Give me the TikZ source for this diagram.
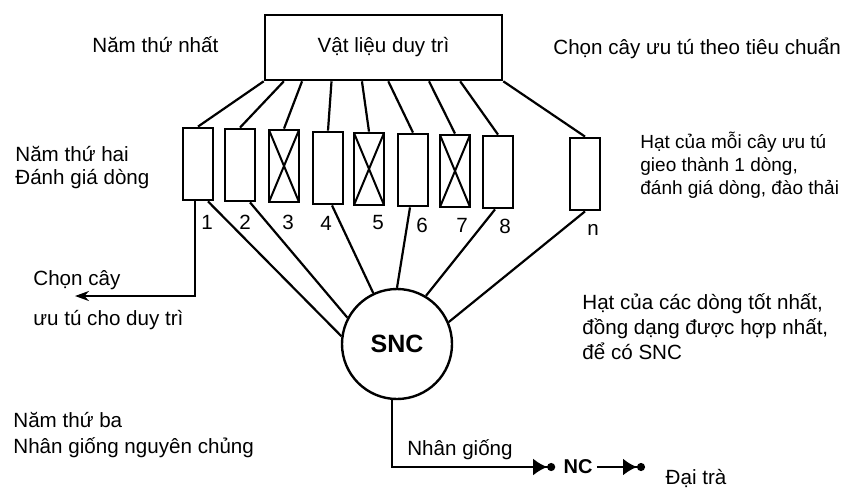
\documentclass[tikz,border=0pt]{standalone}
\usepackage{fontspec}
\setmainfont{Liberation Sans}
\usetikzlibrary{arrows.meta,calc}

\tikzset{
  plot/.style={draw,line width=1.4pt,minimum width=15pt,minimum height=36pt,inner sep=0pt},
  dropped/.style={plot,path picture={
    \draw[line width=1pt] (path picture bounding box.south west) -- (path picture bounding box.north east)
      (path picture bounding box.north west) -- (path picture bounding box.south east);}},
  link/.style={line width=1.1pt},
  seedtip/.style={-{Latex[length=7pt,width=8.5pt]Circle[length=4pt]}},
  txt/.style={anchor=west,inner sep=0pt,align=left},
}

\begin{document}
\begin{tikzpicture}[x=0.5pt,y=-0.5pt,font=\fontsize{10.3}{11.5}\selectfont]
  \useasboundingbox (0,0) rectangle (849,488);
  % year one
  \node[draw,line width=1.3pt,minimum width=118.5pt,minimum height=32.5pt,inner sep=0pt] (src) at (383.5,47.5) {Vật liệu duy trì};
  \node[txt] (y1) at (92,45) {Năm thứ nhất};
  \node[txt] (pick) at (553,48) {Chọn cây ưu tú theo tiêu chuẩn};
  % year two: one row per plant
  \foreach \name/\x/\y/\sty in {r1/198/164/plot,r2/240/165/plot,r3/284/166/dropped,r4/328/168/plot,
      r5/369/169/dropped,r6/413/170/plot,r7/455/171/dropped,r8/498/172/plot,rn/585/174/plot}
    \node[\sty] (\name) at (\x,\y) {};
  \foreach \name/\x/\y/\lab in {l1/207/222/1,l2/245/222/2,l3/288/222/3,l4/326/223/4,l5/378/223/5,
      l6/422/225/6,l7/462/225/7,l8/505/226/8,ln/593/230/n}
    \node (\name) at (\x,\y) {\lab};
  \foreach \name/\f in {r1/0,r2/0.084,r3/0.16,r4/0.283,r5/0.41,r6/0.52,r7/0.69,r8/0.82,rn/1}
    \draw[link] ($(src.south west)!\f!(src.south east)$) -- (\name.north);
  \node[txt] (y2) at (15,168) {Năm thứ hai\\Đánh giá dòng};
  \node[txt,font=\fontsize{9.5}{11.5}\selectfont] (sow) at (640,165) {Hạt của mỗi  cây ưu tú\\gieo thành 1 dòng,\\đánh giá dòng, đào thải};
  % bulk of the best rows
  \node[draw,circle,line width=1.2pt,minimum size=55pt,inner sep=0pt,font=\fontsize{12.5}{14}\selectfont\bfseries] (snc) at (397,344) {SNC};
  \foreach \name/\dx/\ang in {r1/5/172,r2/5/152,r4/2/115,r6/-1.5/90,r8/-1.5/59,rn/0/23}
    \draw[link] ([xshift=\dx pt]\name.south) -- (snc.\ang);
  \coordinate (keep) at (75,296);
  \draw[link,-{Stealth[length=7pt,width=5pt]}] ([xshift=-1.5pt]r1.south) |- (keep);
  \node[txt] (keep1) at (33,280) {Chọn cây};
  \node[txt] (keep2) at (33,320) {ưu tú cho duy trì};
  \node[txt,font=\fontsize{10.3}{12.5}\selectfont] (bulk) at (582,327) {Hạt của các dòng tốt nhất,\\đồng dạng được hợp nhất,\\để có SNC};
  % year three
  \node[txt,font=\fontsize{10.3}{13}\selectfont] (y3) at (13,435) {Năm thứ ba\\Nhân giống nguyên chủng};
  \node[font=\bfseries,inner sep=2pt] (nc) at (578,467) {NC};
  \coordinate (mass) at (645,467);
  \draw[link,seedtip] (snc.265) |- ([xshift=-2pt]nc.west);
  \draw[link,seedtip] (nc.east) -- (mass);
  \node (mult) at (460,450) {Nhân giống};
  \node (field) at (696,478) {Đại trà};
\end{tikzpicture}
\end{document}
